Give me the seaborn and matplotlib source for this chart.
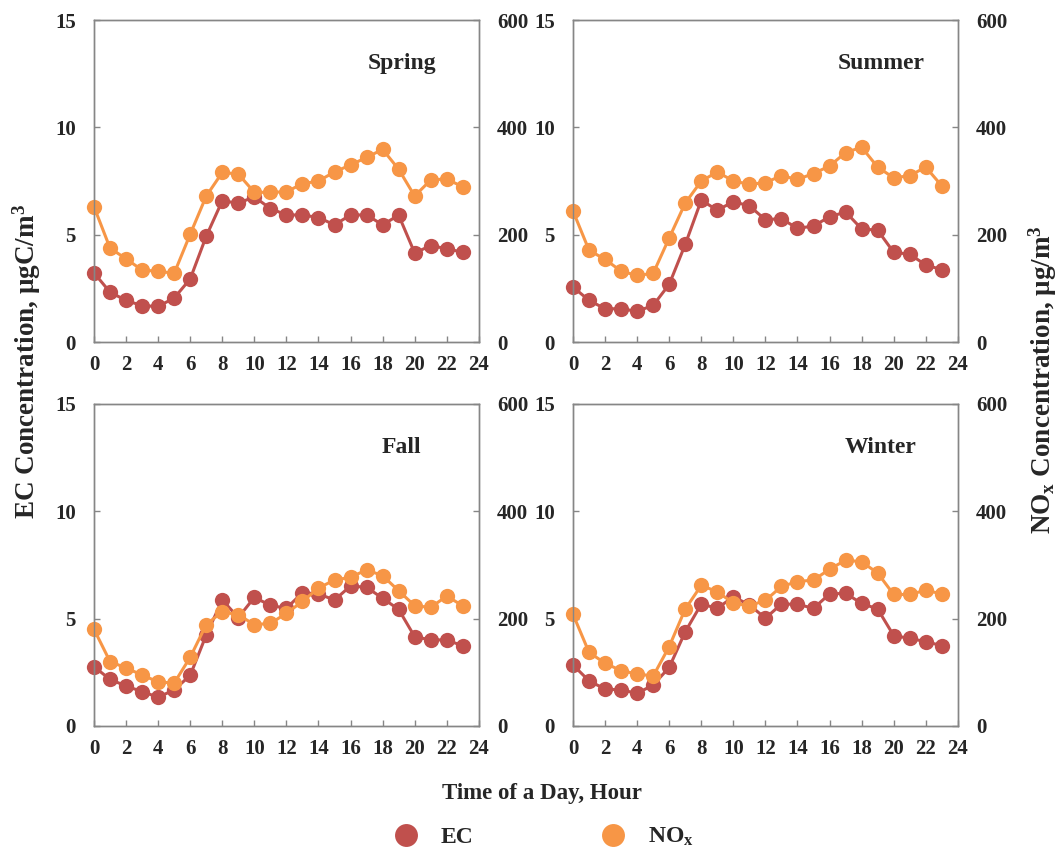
import numpy as np
import pandas as pd
import matplotlib
matplotlib.use('Agg')
import matplotlib.pyplot as plt
import seaborn as sns
from matplotlib.lines import Line2D

# ---------------- data ----------------
hours = list(range(24))
seasons = ['Spring', 'Summer', 'Fall', 'Winter']

ec_spring = [3.22, 2.32, 1.94, 1.69, 1.66, 2.05, 2.94, 4.93, 6.58, 6.47, 6.76, 6.22,
             5.92, 5.92, 5.80, 5.46, 5.92, 5.92, 5.46, 5.91, 4.15, 4.49, 4.35, 4.18]
nox_spring = [252, 175, 155, 134, 132, 128, 201, 272, 316, 313, 279, 279,
              280, 295, 300, 317, 330, 344, 359, 322, 272, 302, 304, 289]

ec_summer = [2.56, 1.94, 1.55, 1.55, 1.43, 1.71, 2.69, 4.55, 6.61, 6.14, 6.54, 6.34,
             5.70, 5.75, 5.29, 5.41, 5.83, 6.06, 5.27, 5.21, 4.18, 4.09, 3.59, 3.37]
nox_summer = [244, 171, 154, 132, 124, 128, 194, 259, 300, 317, 300, 294,
              297, 310, 303, 314, 328, 353, 363, 326, 306, 310, 326, 291]

ec_fall = [2.76, 2.17, 1.86, 1.60, 1.34, 1.68, 2.36, 4.24, 5.87, 5.05, 5.99, 5.62,
           5.48, 6.21, 6.15, 5.87, 6.52, 6.46, 5.95, 5.43, 4.16, 4.01, 4.01, 3.73]
nox_fall = [180, 120, 108, 95, 82, 80, 128, 189, 213, 207, 189, 191,
            210, 232, 257, 272, 277, 291, 280, 252, 224, 221, 242, 224]

ec_winter = [2.84, 2.10, 1.72, 1.68, 1.52, 1.91, 2.73, 4.39, 5.68, 5.48, 6.02, 5.64,
             5.02, 5.68, 5.67, 5.48, 6.15, 6.18, 5.71, 5.45, 4.21, 4.08, 3.93, 3.74]
nox_winter = [208, 137, 117, 103, 97, 93, 148, 218, 262, 250, 229, 224,
              234, 260, 269, 272, 292, 309, 306, 285, 245, 245, 253, 246]

ec_ticks = [0, 5, 10, 15]
nox_ticks = [0, 200, 400, 600]
hour_ticks = list(range(0, 25, 2))

ec_data = {'Spring': ec_spring, 'Summer': ec_summer, 'Fall': ec_fall, 'Winter': ec_winter}
nox_data = {'Spring': nox_spring, 'Summer': nox_summer, 'Fall': nox_fall, 'Winter': nox_winter}

rows = []
for s in seasons:
    for h, e, n in zip(hours, ec_data[s], nox_data[s]):
        rows.append({'season': s, 'hour': h, 'EC': e, 'NOx': n})
df = pd.DataFrame(rows)

# ---------------- style ----------------
sns.set_style('ticks')
plt.rcParams['font.family'] = ['Liberation Serif', 'DejaVu Serif']
plt.rcParams['font.weight'] = 'bold'
plt.rcParams['mathtext.fontset'] = 'custom'
plt.rcParams['mathtext.rm'] = 'Liberation Serif:bold'
plt.rcParams['mathtext.it'] = 'Liberation Serif:bold'
plt.rcParams['mathtext.bf'] = 'Liberation Serif:bold'

EC_C = '#C0504D'
NOX_C = '#F79646'
GRAY = '#868686'

fig = plt.figure(figsize=(10.6, 8.57), dpi=100)

W, H = 0.363, 0.3757
positions = {
    'Spring': (0.0887, 0.6009),
    'Summer': (0.5406, 0.6009),
    'Fall': (0.0887, 0.1529),
    'Winter': (0.5406, 0.1529),
}

for s in seasons:
    l, b = positions[s]
    ax = fig.add_axes([l, b, W, H])
    sub = df[df.season == s]
    sns.lineplot(data=sub, x='hour', y='EC', ax=ax, color=EC_C, marker='o',
                 markersize=11, markeredgewidth=0, markeredgecolor=EC_C,
                 linewidth=2.2, legend=False)
    ax2 = ax.twinx()
    sns.lineplot(data=sub, x='hour', y='NOx', ax=ax2, color=NOX_C, marker='o',
                 markersize=11, markeredgewidth=0, markeredgecolor=NOX_C,
                 linewidth=2.2, legend=False)
    for a in (ax, ax2):
        for ln in a.lines:
            ln.set_clip_on(False)
        for sp in a.spines.values():
            sp.set_visible(True)
            sp.set_color(GRAY)
            sp.set_linewidth(1.0)
    ax.set_xlim(0, 24)
    ax.set_ylim(0, 15)
    ax2.set_ylim(0, 600)
    ax.set_xticks(hour_ticks)
    ax.set_yticks(ec_ticks)
    ax2.set_yticks(nox_ticks)
    ax.set_xlabel('')
    ax.set_ylabel('')
    ax2.set_ylabel('')
    ax.tick_params(axis='x', direction='in', length=4.3, width=1, color=GRAY,
                   pad=9.5, labelsize=15, top=False)
    ax.tick_params(axis='y', direction='in', length=4.3, width=1, color=GRAY,
                   pad=13, labelsize=15, right=False)
    ax2.tick_params(axis='y', direction='in', length=4.3, width=1, color=GRAY,
                    pad=13, labelsize=15)
    for lab in ax.get_xticklabels() + ax.get_yticklabels() + ax2.get_yticklabels():
        lab.set_fontweight('bold')
    ax.text(0.80, 0.866, s, transform=ax.transAxes, ha='center', va='center',
            fontsize=17, fontweight='bold')

fig.text(0.025, 1 - 361 / 857, 'EC Concentration, μgC/m$^\\mathrm{3}$', rotation=90,
         ha='center', va='center', fontsize=19.5, fontweight='bold')
fig.text(0.984, 1 - 380 / 857, 'NO$_\\mathrm{x}$ Concentration, μg/m$^\\mathrm{3}$', rotation=90,
         ha='center', va='center', fontsize=19.5, fontweight='bold')
fig.text(542 / 1060, 1 - 794 / 857, 'Time of a Day, Hour', ha='center', va='center',
         fontsize=16.5, fontweight='bold')

handles = [
    Line2D([], [], linestyle='none', marker='o', markersize=16.5, color=EC_C, markeredgewidth=0),
    Line2D([], [], linestyle='none', marker='o', markersize=16.5, color=NOX_C, markeredgewidth=0),
]
fig.legend(handles, ['EC', 'NO$_\\mathrm{x}$'], loc='center',
           bbox_to_anchor=(544 / 1060, 1 - 837 / 857), ncol=2, frameon=False,
           handlelength=1.0, handletextpad=1.0, columnspacing=5.4,
           prop={'weight': 'bold', 'size': 17})

fig.savefig('out.png', dpi=100)
